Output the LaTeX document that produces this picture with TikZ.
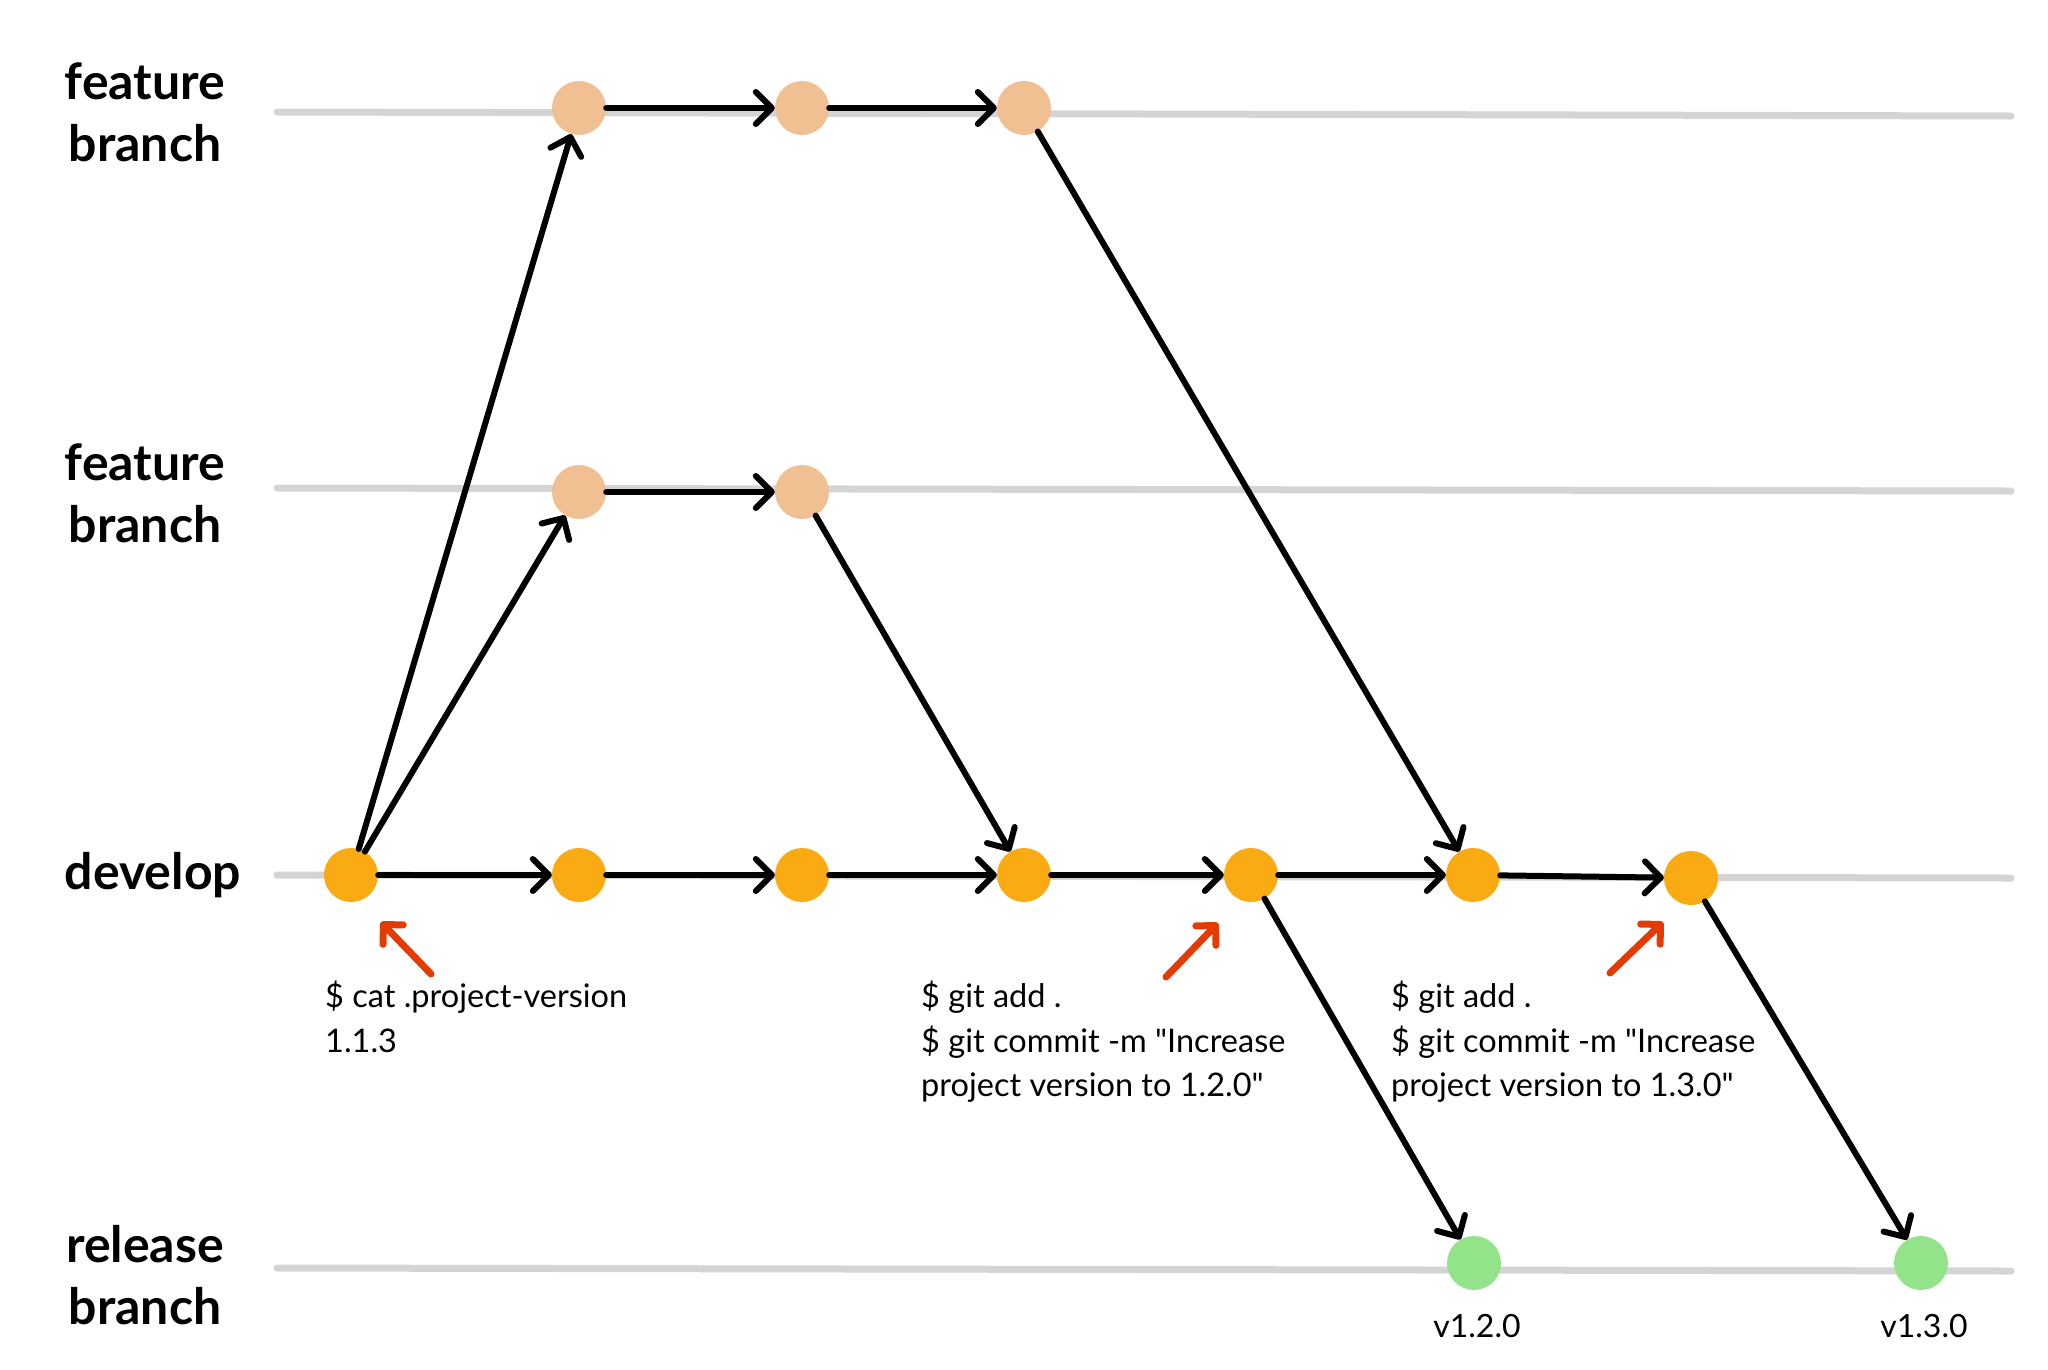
\documentclass[tikz,border=0pt]{standalone}
\usepackage{fontspec}
\setmainfont{Lato}[Ligatures=TeXOff]
\usetikzlibrary{arrows.meta}
\definecolor{peach}{HTML}{F0C093}
\definecolor{orangec}{HTML}{FAAB14}
\definecolor{greenc}{HTML}{93E38A}
\definecolor{redc}{HTML}{E23C04}
\definecolor{grayl}{HTML}{D4D4D4}
\begin{document}
\begin{tikzpicture}[x=1pt,y=-1pt,
  lane/.style={grayl,line width=7pt,line cap=round},
  commit/.style={circle,minimum size=54pt,inner sep=0pt},
  feat/.style={commit,fill=peach},
  dev/.style={commit,fill=orangec},
  rel/.style={commit,fill=greenc},
  flow/.style={black,line width=6pt,line cap=round,-{Straight Barb[length=16pt,width=32pt,round]}},
  hint/.style={redc,line width=7pt,line cap=round,-{Straight Barb[length=14pt,width=28pt,round]}},
  lbl/.style={font=\fontsize{50}{62}\selectfont\bfseries,align=center,inner sep=0pt},
  cmd/.style={font=\fontsize{32.5}{44.5}\selectfont,align=left,anchor=north west,inner sep=0pt},
  ver/.style={font=\fontsize{32}{38}\selectfont,inner sep=0pt}]
\useasboundingbox (0,0) rectangle (2048,1369);
% lanes
\draw[lane] (277,112) -- (2011,116);
\draw[lane] (277,488) -- (2011,491);
\draw[lane] (277,875) -- (2011,878);
\draw[lane] (277,1268) -- (2011,1271);
% lane labels
\node[lbl] (lf1) at (145,112) {feature\\branch};
\node[lbl] (lf2) at (145,493) {feature\\branch};
\node[lbl] (ldev) at (153,875) {develop};
\node[lbl] (lrel) at (145,1275) {release\\branch};
% commits
\node[feat] (f1a) at (579,108) {};
\node[feat] (f1b) at (802,108) {};
\node[feat] (f1c) at (1024,108) {};
\node[feat] (f2a) at (579,492) {};
\node[feat] (f2b) at (802,492) {};
\node[dev] (d0) at (351,875) {};
\node[dev] (d1) at (579,875) {};
\node[dev] (d2) at (802,875) {};
\node[dev] (d3) at (1024,875) {};
\node[dev] (d4) at (1251,875) {};
\node[dev] (d5) at (1473,875) {};
\node[dev] (d6) at (1691,878) {};
\node[rel] (r1) at (1474,1263) {};
\node[rel] (r2) at (1921,1263) {};
% connectors
\draw[flow] (d0) -- (f1a);
\draw[flow] (d0) -- (f2a);
\draw[flow] (f1a) -- (f1b);
\draw[flow] (f1b) -- (f1c);
\draw[flow] (f2a) -- (f2b);
\draw[flow] (d0) -- (d1);
\draw[flow] (d1) -- (d2);
\draw[flow] (d2) -- (d3);
\draw[flow] (d3) -- (d4);
\draw[flow] (d4) -- (d5);
\draw[flow] (d5) -- (d6);
\draw[flow] (f2b) -- (d3);
\draw[flow] (f1c) -- (d5);
\draw[flow] (d4) -- (r1);
\draw[flow] (d6) -- (r2);
% annotations
\node[cmd] (t1) at (325,981) {\$ cat .project-version\\1.1.3};
\node[cmd] (t2) at (921,981) {\$ git add .\\\$ git commit -m "Increase\\project version to 1.2.0"};
\node[cmd] (t3) at (1391,981) {\$ git add .\\\$ git commit -m "Increase\\project version to 1.3.0"};
\node[ver] (v1) at (1477,1326) {v1.2.0};
\node[ver] (v2) at (1924,1326) {v1.3.0};
% red hint arrows
\coordinate (h1s) at (431,974); \coordinate (h1e) at (381,922);
\coordinate (h2s) at (1166,977); \coordinate (h2e) at (1218,923);
\coordinate (h3s) at (1610,973); \coordinate (h3e) at (1663,922);
\draw[hint] (h1s) -- (h1e);
\draw[hint] (h2s) -- (h2e);
\draw[hint] (h3s) -- (h3e);
\end{tikzpicture}
\end{document}
